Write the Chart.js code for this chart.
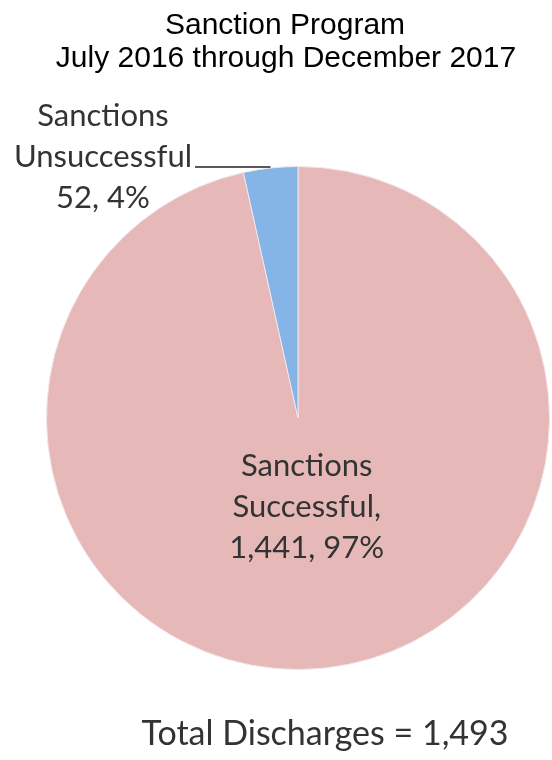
<!DOCTYPE html>
<html>
<head>
<meta charset="utf-8">
<script src="https://cdn.jsdelivr.net/npm/chart.js@4/dist/chart.umd.min.js"></script>
<style>
  html, body { margin: 0; padding: 0; background: #fff; }
  #wrap { width: 552px; height: 760px; }
</style>
</head>
<body>
<div id="wrap"><canvas id="pieChart" width="552" height="760"></canvas></div>
<script>
const titleLines = ["Sanction Program", "July 2016 through December 2017"];
const categories = ["Sanctions Successful", "Sanctions Unsuccessful"];
const counts = [1441, 52];
const percentLabels = ["97%", "4%"];
const totalLabel = "Total Discharges = 1,493";
const sliceColors = ["#e6b9b8", "#85b4e6"];

const labelFont = '31px Lato, "Noto Sans", sans-serif';
const labelColor = "#333333";

function fmt(n) {
  return n.toLocaleString("en-US");
}

// titles, slice labels, leader line and total note
const pieText = {
  id: "pieText",
  afterDraw(chart) {
    const c = chart.ctx;
    const arcs = chart.getDatasetMeta(0).data;
    c.save();
    c.textAlign = "center";
    c.textBaseline = "alphabetic";

    c.fillStyle = "#000";
    c.font = '30px "Liberation Sans", Arial, sans-serif';
    c.fillText(titleLines[0], 285, 34);
    c.fillText(titleLines[1], 286, 67);

    c.font = labelFont;
    c.fillStyle = labelColor;

    // big slice: label inside, along the mid angle
    const a0 = arcs[0].getProps(["x", "y", "startAngle", "endAngle", "outerRadius"], true);
    const mid0 = (a0.startAngle + a0.endAngle) / 2;
    const d = a0.outerRadius * 0.39;
    const lx = a0.x + Math.cos(mid0) * d - 2;
    const ly = a0.y + Math.sin(mid0) * d;
    const parts0 = categories[0].split(" ");
    c.fillText(parts0[0], lx, ly - 41 + 2);
    c.fillText(parts0[1] + ",", lx, ly + 2);
    c.fillText(fmt(counts[0]) + ", " + percentLabels[0], lx, ly + 41 + 2);

    // small slice: label outside with a leader line
    const a1 = arcs[1].getProps(["x", "y", "startAngle", "endAngle", "outerRadius"], true);
    const mid1 = (a1.startAngle + a1.endAngle) / 2;
    const ex = a1.x + Math.cos(mid1) * a1.outerRadius;
    const ey = a1.y + Math.sin(mid1) * a1.outerRadius - 1;
    const parts1 = categories[1].split(" ");
    const tx = 103;
    c.fillText(parts1[0], tx, ey - 41);
    c.fillText(parts1[1], tx, ey);
    c.fillText(fmt(counts[1]) + ", " + percentLabels[1], tx, ey + 41);
    const w = c.measureText(parts1[1]).width;
    c.strokeStyle = "#222";
    c.lineWidth = 1.5;
    c.beginPath();
    c.moveTo(tx + w / 2 + 3, ey);
    c.lineTo(ex, ey);
    c.stroke();

    c.font = '34px Lato, "Noto Sans", sans-serif';
    c.fillText(totalLabel, 325, 745);
    c.restore();
  },
};

new Chart(document.getElementById("pieChart"), {
  type: "pie",
  data: {
    labels: categories,
    datasets: [
      {
        data: counts,
        backgroundColor: sliceColors,
        borderColor: "#f3e6ea",
        borderWidth: 1,
      },
    ],
  },
  options: {
    responsive: false,
    animation: false,
    layout: { padding: { left: 46, right: 2, top: 165, bottom: 89 } },
    plugins: {
      legend: { display: false },
      tooltip: { enabled: false },
      title: { display: false },
    },
  },
  plugins: [pieText],
});
</script>
</body>
</html>
